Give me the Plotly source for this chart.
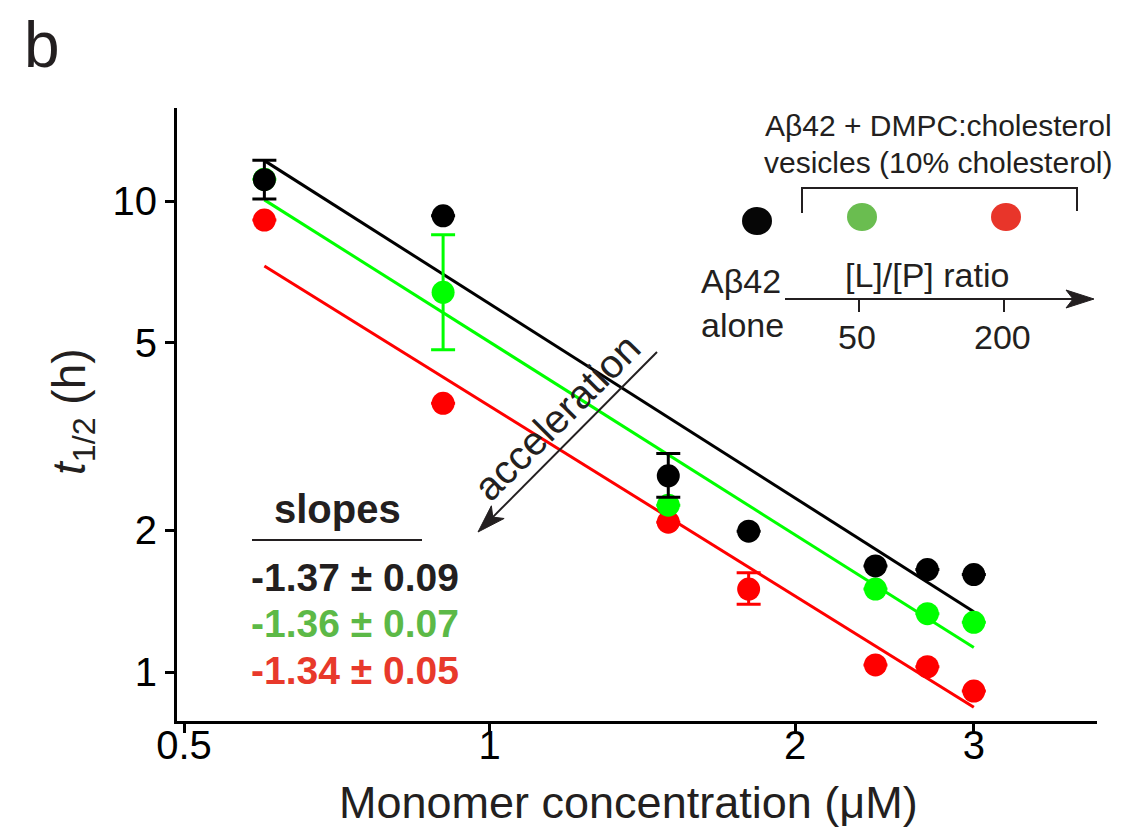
import numpy as np
import plotly.graph_objects as go

# ---------------- data ----------------
conc_alone = [0.6, 0.9, 1.5, 1.8, 2.4, 2.7, 3.0]
t_alone = [11.1, 9.3, 2.61, 1.99, 1.68, 1.65, 1.61]
err_alone_plus = [1.10, None, 0.30, None, None, None, None]
err_alone_minus = [1.00, None, 0.26, None, None, None, None]

conc_lp50 = [0.6, 0.9, 1.5, 2.4, 2.7, 3.0]
t_lp50 = [11.12, 6.4, 2.26, 1.50, 1.33, 1.275]
err_lp50_plus = [None, 2.08, None, None, None, None]
err_lp50_minus = [None, 1.57, None, None, None, None]

conc_lp200 = [0.6, 0.9, 1.5, 1.8, 2.4, 2.7, 3.0]
t_lp200 = [9.11, 3.72, 2.08, 1.50, 1.035, 1.026, 0.911]
err_lp200_plus = [None, None, None, 0.125, None, None, None]
err_lp200_minus = [None, None, None, 0.108, None, None, None]

fit_slopes = [-1.37, -1.36, -1.34]
fit_at_1uM = [6.05, 5.02, 3.67]
fit_range = [0.6, 3.0]
slope_labels = ["-1.37 ± 0.09", "-1.36 ± 0.07", "-1.34 ± 0.05"]

x_ticks = [0.5, 1, 2, 3]
x_ticklabels = ["0.5", "1", "2", "3"]
y_ticks = [1, 2, 5, 10]
y_ticklabels = ["1", "2", "5", "10"]

point_colors = ["#000000", "#00ff00", "#ff0000"]
text_colors = ["#231f20", "#5cb947", "#e8392b"]
legend_dot_colors = ["#060606", "#6abd50", "#e8352a"]

# ---------------- layout geometry (pixels) ----------------
W, H = 1122, 831
L, R, T, B = 177, 1097, 108, 721
PW, PH = R - L, B - T


def px(x):
    return (x - L) / PW


def py(y):
    return (B - y) / PH


FONT = "Liberation Sans, Arial, sans-serif"
DARK = "#231f20"

fig = go.Figure()

# fitted power-law lines
xf = np.array(fit_range)
for s, a, c in zip(fit_slopes, fit_at_1uM, point_colors):
    fig.add_trace(go.Scatter(x=xf, y=a * xf ** s, mode="lines",
                             line=dict(color=c, width=3), hoverinfo="skip"))

series = [
    (conc_lp200, t_lp200, err_lp200_plus, err_lp200_minus, point_colors[2]),
    (conc_lp50, t_lp50, err_lp50_plus, err_lp50_minus, point_colors[1]),
    (conc_alone, t_alone, err_alone_plus, err_alone_minus, point_colors[0]),
]
for xs, ys, ep, em, c in series:
    fig.add_trace(go.Scatter(
        x=xs, y=ys, mode="markers",
        marker=dict(color=c, size=23, line=dict(width=0)),
        error_y=dict(type="data", symmetric=False, array=ep, arrayminus=em,
                     color=c, thickness=3, width=12),
    ))

annotations = []
shapes = []


def text(x, y, s, size, color=DARK, anchor="center", angle=0):
    annotations.append(dict(x=px(x), y=py(y), xref="paper", yref="paper",
                            text=s, showarrow=False, textangle=angle,
                            font=dict(family=FONT, size=size, color=color),
                            xanchor=anchor, yanchor="middle"))


def arrow(x0, y0, x1, y1, head_len, head_half, notch, width=2):
    d = np.array([x1 - x0, y1 - y0], dtype=float)
    u = d / np.linalg.norm(d)
    n = np.array([-u[1], u[0]])
    tip = np.array([x1, y1], dtype=float)
    base = tip - u * head_len
    p1 = base + n * head_half
    p2 = base - n * head_half
    nt = tip - u * (head_len - notch)
    shapes.append(dict(type="line", xref="paper", yref="paper",
                       x0=px(x0), y0=py(y0), x1=px(nt[0]), y1=py(nt[1]),
                       line=dict(color=DARK, width=width)))
    path = "M {},{} L {},{} L {},{} L {},{} Z".format(
        px(tip[0]), py(tip[1]), px(p1[0]), py(p1[1]),
        px(nt[0]), py(nt[1]), px(p2[0]), py(p2[1]))
    shapes.append(dict(type="path", xref="paper", yref="paper", path=path,
                       fillcolor=DARK, line=dict(color=DARK, width=1)))


# panel letter
text(42, 45, "b", 64)

# axis titles
text(628, 802, "Monomer concentration (μM)", 45)
text(72, 412, "<i>t</i><sub>1/2</sub> (h)", 46, angle=-90)

# slopes box
text(337, 509, "<b>slopes</b>", 40)
shapes.append(dict(type="line", xref="paper", yref="paper",
                   x0=px(252), x1=px(422), y0=py(540), y1=py(540),
                   line=dict(color=DARK, width=2)))
for i, (lab, c) in enumerate(zip(slope_labels, text_colors)):
    text(249, 577 + 46.5 * i, "<b>" + lab + "</b>", 39, color=c, anchor="left")

# acceleration arrow
arrow(657, 352, 478, 532, 28, 9, 7)
text(557, 417, "acceleration", 40, angle=-45)

# custom legend
text(938, 126, "Aβ42 + DMPC:cholesterol", 30)
text(938, 163, "vesicles (10% cholesterol)", 30)
shapes.append(dict(type="path", xref="paper", yref="paper",
                   path=f"M {px(802)},{py(213)} L {px(802)},{py(188)} L {px(1077)},{py(188)} L {px(1077)},{py(211)}",
                   line=dict(color=DARK, width=2)))
for (cx, cy), c in zip([(757, 221), (862, 217), (1006, 217)], legend_dot_colors):
    shapes.append(dict(type="circle", xref="paper", yref="paper",
                       xsizemode="pixel", ysizemode="pixel",
                       xanchor=px(cx), yanchor=py(cy),
                       x0=-15, x1=15, y0=-14, y1=14,
                       fillcolor=c, line=dict(width=0)))
text(927, 275, "[L]/[P] ratio", 34)
text(699, 281, "Aβ42", 34, anchor="left")
text(699, 325, "alone", 34, anchor="left")
arrow(785, 299, 1094, 299, 28, 9, 7)
for tx, lab in zip([859, 1004], ["50", "200"]):
    shapes.append(dict(type="line", xref="paper", yref="paper",
                       x0=px(tx), x1=px(tx), y0=py(299), y1=py(312),
                       line=dict(color=DARK, width=2)))
    text(tx - 2, 337, lab, 34)

x_lo = np.log10(0.5) - (184 - L) / 1015
x_hi = x_lo + PW / 1015
y_lo = -(B - 672) / 471
y_hi = y_lo + PH / 471

fig.update_layout(
    width=W, height=H,
    margin=dict(l=L, r=W - R, t=T, b=H - B),
    paper_bgcolor="white", plot_bgcolor="white",
    showlegend=False,
    annotations=annotations, shapes=shapes,
    xaxis=dict(type="log", range=[x_lo, x_hi], tickvals=x_ticks, ticktext=x_ticklabels,
               showgrid=False, zeroline=False, showline=True, linecolor="black", linewidth=3,
               ticks="outside", ticklen=9, tickwidth=3, tickcolor="black",
               ticklabelstandoff=-22,
               tickfont=dict(family=FONT, size=40, color="black")),
    yaxis=dict(type="log", range=[y_lo, y_hi], tickvals=y_ticks, ticktext=y_ticklabels,
               showgrid=False, zeroline=False, showline=True, linecolor="black", linewidth=3,
               ticks="outside", ticklen=9, tickwidth=3, tickcolor="black",
               tickfont=dict(family=FONT, size=40, color="black")),
)

fig.write_html("out.html")
